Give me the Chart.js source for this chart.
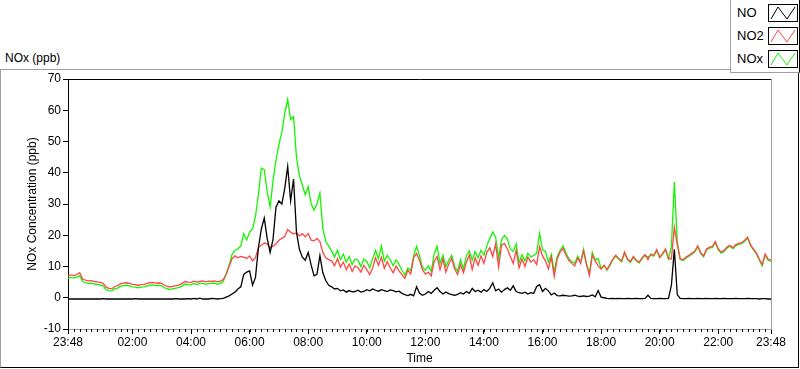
<!DOCTYPE html>
<html>
<head>
<meta charset="utf-8">
<script src="https://cdn.jsdelivr.net/npm/chart.js@4/dist/chart.umd.min.js"></script>
<style>
  body { margin: 0; background: #fff; }
  #wrap { position: relative; width: 800px; height: 369px; overflow: hidden; background: #fff;
          font-family: "Liberation Sans", Arial, sans-serif; color: #000; }
  #frame { position: absolute; left: 0; top: 69px; width: 797px; height: 297px;
           border-left: 1px solid #a0a0a0; border-top: 1px solid #a0a0a0;
           border-right: 1px solid #000; border-bottom: 1px solid #000; }
  #caption { position: absolute; left: 5px; top: 50px; font-size: 12px; line-height: 16px; }
  #chart { position: absolute; left: 0; top: 0; }
  #legend { position: absolute; left: 730px; top: 0; width: 68px; height: 72px; background: #fff;
            border-left: 1px solid #a0a0a0; border-bottom: 1px solid #a0a0a0; border-right: 1px solid #000; }
  .row { position: absolute; left: 0; width: 68px; height: 18px; font-size: 13px; line-height: 18px; }
  .row span { position: absolute; left: 6px; top: 0; }
  .row svg { position: absolute; left: 37px; top: 0; }
</style>
</head>
<body>
<div id="wrap">
  <div id="frame"></div>
  <div id="caption">NOx (ppb)</div>
  <canvas id="chart" width="800" height="369"></canvas>
  <div id="legend"></div>
</div>
<script>
// sample spacing in hours, first sample at 23:48
const sampleStep = 0.1;

const seriesNames = ["NO", "NO2", "NOx"];
const seriesColors = ["#000000", "rgb(255,70,70)", "rgb(20,245,0)"];

// tick positions (hours after 23:48) and their labels
const tickHours = [0, 2.2, 4.2, 6.2, 8.2, 10.2, 12.2, 14.2, 16.2, 18.2, 20.2, 22.2, 24];
const timeTicks = ["23:48", "02:00", "04:00", "06:00", "08:00", "10:00", "12:00",
                   "14:00", "16:00", "18:00", "20:00", "22:00", "23:48"];

const no = [
  -0.4,-0.4,-0.4,-0.4,-0.4,-0.4,-0.4,-0.4,-0.4,-0.4,
  -0.4,-0.4,-0.3,-0.4,-0.4,-0.4,-0.4,-0.4,-0.4,-0.4,
  -0.4,-0.4,-0.4,-0.3,-0.4,-0.4,-0.4,-0.4,-0.4,-0.4,
  -0.4,-0.4,-0.4,-0.4,-0.4,-0.4,-0.4,-0.3,-0.4,-0.4,
  -0.4,-0.3,-0.4,-0.2,-0.4,-0.1,-0.4,-0.4,-0.4,-0.2,
  -0.3,-0.4,-0.3,-0.2,0.2,0.6,1.2,1.8,2.8,3.5,
  7.5,8.2,8.6,4.0,6.5,16.0,22.0,25.5,19.0,14.5,
  18.7,29.0,31.0,30.0,35.0,42.0,31.0,38.0,21.0,15.5,
  13.0,12.0,14.5,10.5,7.0,7.5,13.5,8.0,5.5,4.0,
  3.5,2.8,3.0,2.2,2.5,1.8,2.3,1.9,2.0,2.4,
  1.8,2.0,2.6,2.2,2.8,2.4,2.1,2.6,2.3,2.0,
  2.5,2.3,1.9,2.1,1.4,1.0,0.7,1.1,0.6,3.5,
  1.5,0.8,1.2,2.0,1.4,2.4,3.2,2.0,1.2,1.8,
  1.3,1.0,0.8,1.1,1.6,1.2,2.0,1.4,3.0,2.0,
  2.4,1.8,2.6,2.0,3.0,4.8,2.2,2.8,1.8,2.6,
  3.2,2.4,3.8,2.0,1.6,1.4,1.8,1.2,1.6,1.4,
  3.6,4.2,2.0,3.0,2.2,0.9,1.5,0.7,0.6,0.8,
  0.7,0.5,0.6,0.8,0.5,0.4,0.6,0.4,0.5,0.9,
  0.3,2.3,0.2,0.0,-0.2,-0.3,-0.2,-0.3,-0.2,-0.3,
  -0.3,-0.2,-0.3,-0.3,-0.2,-0.3,-0.3,-0.2,0.8,-0.2,
  -0.3,-0.3,-0.2,-0.3,-0.3,-0.2,4.0,15.5,1.0,-0.2,
  -0.3,-0.3,-0.2,-0.3,-0.3,-0.2,-0.3,-0.3,-0.2,-0.3,
  -0.3,-0.2,-0.3,-0.3,-0.2,-0.3,-0.3,-0.3,-0.2,-0.3,
  -0.3,-0.3,-0.2,-0.3,-0.3,-0.3,-0.4,-0.3,-0.3,-0.4,
  -0.4
];

const no2 = [
  7.0,7.3,7.1,7.4,8.0,6.0,5.6,5.4,5.5,5.2,
  5.1,4.9,4.6,3.4,3.0,2.9,3.6,3.9,4.5,4.7,
  4.8,4.6,4.3,4.2,4.0,4.2,4.3,4.6,4.8,4.9,
  4.7,4.8,4.6,4.0,3.6,3.5,3.7,3.9,4.1,4.6,
  5.2,5.0,4.9,5.3,5.0,5.2,5.4,5.1,5.3,5.2,
  5.4,5.1,5.3,5.8,7.5,10.0,12.5,13.4,12.8,13.2,
  13.0,12.6,13.4,11.8,12.8,16.0,16.8,17.5,17.2,16.0,
  16.5,17.2,18.4,19.0,19.6,21.8,21.0,20.4,20.8,19.8,
  20.5,19.5,20.6,18.4,18.2,19.0,18.0,14.5,12.8,12.2,
  11.8,10.2,12.5,9.8,11.4,9.0,10.8,8.4,10.2,9.6,
  8.2,10.4,9.0,7.4,9.6,12.8,10.4,13.0,9.4,11.6,
  9.6,8.0,10.2,8.6,7.4,6.2,8.8,7.6,12.8,14.2,
  12.0,9.0,7.6,8.2,7.0,11.6,13.2,9.0,12.4,8.2,
  10.8,12.6,9.2,7.4,10.6,8.0,11.4,13.6,9.0,12.8,
  10.4,13.4,11.0,14.6,16.0,13.2,17.2,9.8,16.8,17.4,
  15.6,13.2,11.0,15.2,9.6,12.4,10.0,13.0,11.4,12.2,
  10.6,16.4,13.4,11.8,9.2,13.0,6.8,12.4,14.6,15.8,
  13.6,12.0,11.0,10.2,12.8,11.0,15.0,10.6,7.2,13.6,
  11.8,10.2,9.2,10.4,9.0,10.6,12.4,13.6,12.6,11.8,
  14.6,12.4,11.6,13.2,12.0,11.4,12.8,13.8,12.2,14.0,
  13.6,15.4,13.0,14.2,15.6,12.6,12.4,22.6,17.0,12.4,
  12.2,13.0,13.6,14.2,15.0,16.6,14.4,13.4,15.6,16.2,
  16.4,18.0,15.6,14.6,15.2,16.2,16.8,16.0,17.0,17.4,
  17.6,18.4,19.4,17.0,15.6,14.4,12.4,10.6,14.0,12.4,
  12.0
];

const nox = [
  6.2,6.5,6.3,6.6,7.0,5.2,4.8,4.6,4.7,4.4,
  4.3,4.1,3.8,2.6,2.3,2.2,2.9,3.1,3.7,3.9,
  4.0,3.8,3.5,3.4,3.2,3.4,3.5,3.8,4.0,4.1,
  3.9,4.0,3.8,3.2,2.8,2.7,2.9,3.1,3.3,3.8,
  4.4,4.2,4.1,4.6,4.2,4.6,4.6,4.3,4.5,4.6,
  4.7,4.3,4.6,5.2,7.6,10.4,13.8,15.2,15.6,16.6,
  20.5,18.5,21.0,22.0,26.0,33.0,41.5,41.0,34.0,29.0,
  37.5,44.0,49.0,53.0,59.0,63.5,57.0,58.0,45.0,39.0,
  36.0,33.0,35.5,30.0,28.0,30.0,33.5,22.0,18.0,16.5,
  15.0,13.0,15.2,12.2,14.0,11.4,13.2,10.6,12.4,12.0,
  10.0,12.4,11.6,9.6,12.4,15.2,12.5,16.5,11.7,13.6,
  12.1,10.3,12.1,10.7,8.8,7.2,9.5,8.7,13.4,16.5,
  13.5,9.8,8.8,10.2,8.4,14.0,16.4,11.0,13.6,10.0,
  12.1,13.6,10.0,8.5,12.2,9.2,13.4,15.0,12.0,14.8,
  12.8,15.2,13.6,16.6,19.0,21.0,19.4,12.6,18.6,20.0,
  18.8,15.6,14.8,17.2,11.2,13.8,11.8,14.2,13.0,13.6,
  14.2,20.6,15.4,14.8,11.4,13.9,8.3,13.1,15.2,16.6,
  14.3,12.5,11.6,11.0,13.3,11.4,15.6,11.0,7.7,14.5,
  12.1,12.5,9.4,10.4,8.8,10.3,12.2,13.3,12.4,11.5,
  14.3,12.2,11.3,12.9,11.8,11.1,12.5,13.6,13.0,13.7,
  13.3,15.1,12.8,13.9,15.3,12.4,16.4,37.0,18.0,12.2,
  11.9,12.7,13.3,13.9,14.7,16.3,14.1,13.1,15.3,15.9,
  16.1,17.7,15.3,14.3,14.9,15.9,16.5,15.7,16.7,17.1,
  17.3,18.1,19.1,16.7,15.3,14.1,12.0,10.2,13.7,12.0,
  11.6
];

const seriesValues = [no, no2, nox];

const toPoints = (values) =>
  values.map((v, i) => ({ x: +(i * sampleStep).toFixed(1), y: v }));

// top/right edges of the plot box and the small 12-minute ticks
const plotBox = {
  id: "plotBox",
  afterDraw(chart) {
    const { ctx, chartArea: a, scales } = chart;
    ctx.save();
    ctx.lineWidth = 1;
    ctx.strokeStyle = "#000";
    ctx.beginPath();
    ctx.moveTo(a.left, Math.round(a.top) + 0.5);
    ctx.lineTo(a.right, Math.round(a.top) + 0.5);
    ctx.stroke();
    ctx.strokeStyle = "#a0a0a0";
    ctx.beginPath();
    ctx.moveTo(Math.round(a.right) + 0.5, a.top);
    ctx.lineTo(Math.round(a.right) + 0.5, a.bottom);
    ctx.stroke();
    ctx.strokeStyle = "#000";
    ctx.beginPath();
    for (let k = 1; k < 120; k++) {
      const px = Math.round(scales.x.getPixelForValue(k / 5)) + 0.5;
      ctx.moveTo(px, a.bottom);
      ctx.lineTo(px, a.bottom + 3);
    }
    ctx.stroke();
    ctx.restore();
  },
};

const tickFont = { family: "'Liberation Sans Narrow', 'Liberation Sans', sans-serif", size: 12 };
const titleFont = { family: "'Liberation Sans', sans-serif", size: 12 };

new Chart(document.getElementById("chart").getContext("2d"), {
  type: "line",
  data: {
    datasets: seriesNames.map((name, i) => ({
      label: name,
      data: toPoints(seriesValues[i]),
      borderColor: seriesColors[i],
      borderWidth: 1.3,
      pointRadius: 0,
      tension: 0,
      fill: false,
    })),
  },
  options: {
    responsive: false,
    animation: false,
    devicePixelRatio: 1,
    layout: { padding: { top: 79, right: 29, left: 0, bottom: 0 } },
    plugins: { legend: { display: false }, tooltip: { enabled: false } },
    scales: {
      x: {
        type: "linear",
        min: 0,
        max: 24,
        afterBuildTicks: (scale) => {
          scale.ticks = tickHours.map((v) => ({ value: v }));
        },
        afterFit: (scale) => {
          scale.height = 40;
        },
        ticks: {
          autoSkip: false,
          maxRotation: 0,
          padding: 1,
          color: "#000",
          font: tickFont,
          callback: (value, index) => timeTicks[index],
        },
        grid: { drawOnChartArea: false, tickLength: 5, tickColor: "#000" },
        border: { color: "#a0a0a0" },
        title: { display: true, text: "Time", color: "#000", font: titleFont, padding: { top: 0, bottom: 3 } },
      },
      y: {
        min: -10,
        max: 70,
        afterFit: (scale) => {
          scale.width = 68;
        },
        ticks: { stepSize: 10, padding: 2, color: "#000", font: tickFont },
        grid: { drawOnChartArea: false, tickLength: 5, tickColor: "#000" },
        border: { color: "#000" },
        title: { display: true, text: "NOx Concentration (ppb)", color: "#000", font: titleFont, padding: { top: 25, bottom: 0 } },
      },
    },
  },
  plugins: [plotBox],
});

// legend: name followed by a small zig-zag swatch
const legendRows = [4, 27, 50];
document.getElementById("legend").innerHTML = seriesNames
  .map(
    (name, i) => `<div class="row" style="top:${legendRows[i]}px"><span>${name}</span>
      <svg width="30" height="18"><rect x="0.5" y="0.5" width="29" height="17" fill="#fff" stroke="#000"/>
      <polyline points="3,15 10,3 19,15 27,3" fill="none" stroke="${seriesColors[i]}" stroke-width="1"/></svg></div>`
  )
  .join("");
</script>
</body>
</html>
